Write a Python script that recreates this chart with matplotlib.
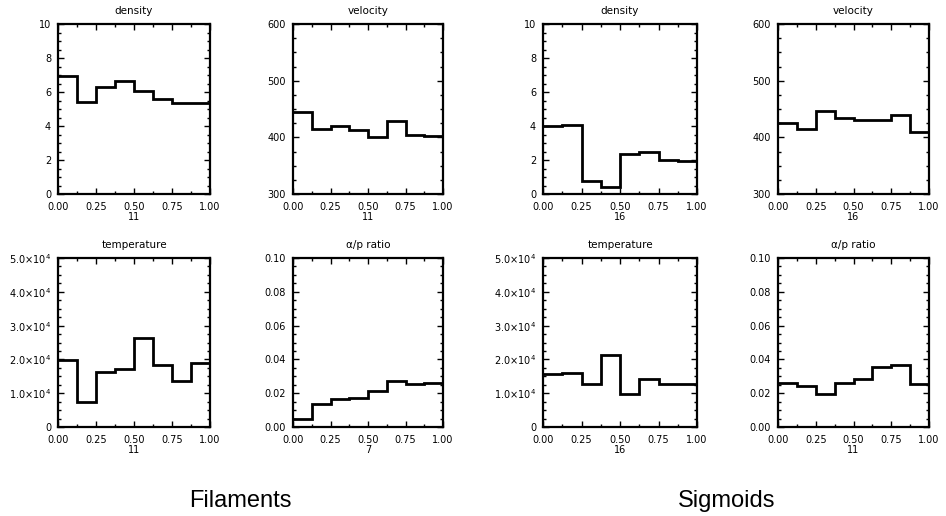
import numpy as np
import matplotlib
matplotlib.use("Agg")
import matplotlib.pyplot as plt
from matplotlib.ticker import MultipleLocator, AutoMinorLocator, FixedLocator

# bin edges shared by every histogram (8 bins over 0..1)
bin_edges = [0.0, 0.125, 0.25, 0.375, 0.5, 0.625, 0.75, 0.875, 1.0]
x_ticks = [0.0, 0.25, 0.5, 0.75, 1.0]
x_tick_labels = ["0.00", "0.25", "0.50", "0.75", "1.00"]

# Filaments
fil_density = [6.96, 5.43, 6.32, 6.66, 6.08, 5.6, 5.37, 5.33]
fil_velocity = [445, 415, 420, 413, 400, 429, 404, 403]
fil_temperature = [1.97e4, 0.74e4, 1.62e4, 1.73e4, 2.62e4, 1.84e4, 1.37e4, 1.89e4]
fil_ap_ratio = [0.0049, 0.0138, 0.0168, 0.0172, 0.0213, 0.0272, 0.0256, 0.026]
fil_counts = ["11", "11", "11", "7"]

# Sigmoids
sig_density = [4.0, 4.08, 0.74, 0.4, 2.36, 2.5, 2.0, 1.92]
sig_velocity = [425, 415, 446, 434, 431, 430, 440, 409]
sig_temperature = [1.57e4, 1.59e4, 1.26e4, 2.14e4, 0.98e4, 1.42e4, 1.26e4, 1.26e4]
sig_ap_ratio = [0.0259, 0.0245, 0.0195, 0.0263, 0.0283, 0.0353, 0.0365, 0.0253]
sig_counts = ["16", "16", "16", "11"]

titles = ["density", "velocity", "temperature", "\u03b1/p ratio"]
temp_ticks = [0, 1e4, 2e4, 3e4, 4e4, 5e4]
temp_tick_labels = ["0", r"1.0$\times$10$^4$", r"2.0$\times$10$^4$",
                    r"3.0$\times$10$^4$", r"4.0$\times$10$^4$", r"5.0$\times$10$^4$"]

W, H = 946, 516
fig = plt.figure(figsize=(W / 100, H / 100), dpi=100)
plt.rcParams["font.family"] = ["DejaVu Sans"]
plt.rcParams["mathtext.fontset"] = "dejavusans"


def add_panel(l, r, t, b):
    return fig.add_axes([l / W, 1 - b / H, (r - l) / W, (b - t) / H])


def style(ax, title, xlabel):
    ax.set_xlim(0, 1)
    ax.xaxis.set_major_locator(FixedLocator(x_ticks))
    ax.set_xticklabels(x_tick_labels)
    ax.xaxis.set_minor_locator(MultipleLocator(0.125))
    ax.yaxis.set_minor_locator(AutoMinorLocator(4))
    ax.tick_params(which="both", direction="in", top=True, right=True,
                   labelsize=7, width=1)
    ax.tick_params(axis="x", pad=6)
    ax.tick_params(axis="y", pad=5)
    ax.tick_params(which="major", length=4)
    ax.tick_params(which="minor", length=2)
    for sp in ax.spines.values():
        sp.set_linewidth(1.6)
    ax.set_title(title, fontsize=7.5, pad=7)
    ax.set_xlabel(xlabel, fontsize=7, labelpad=0)


def draw(ax, vals):
    ax.stairs(vals, bin_edges, baseline=None, color="black", linewidth=2)


# column pixel spans of each group
groups = [
    (fil_density, fil_velocity, fil_temperature, fil_ap_ratio, fil_counts,
     [(58, 210), (293, 443)]),
    (sig_density, sig_velocity, sig_temperature, sig_ap_ratio, sig_counts,
     [(543, 697), (778, 929)]),
]
rows = [(24, 194), (258, 427)]

for dens, vel, temp, ap, counts, cols in groups:
    ax = add_panel(cols[0][0], cols[0][1], *rows[0])
    draw(ax, dens)
    ax.set_ylim(0, 10)
    ax.yaxis.set_major_locator(MultipleLocator(2))
    style(ax, titles[0], counts[0])

    ax = add_panel(cols[1][0], cols[1][1], *rows[0])
    draw(ax, vel)
    ax.set_ylim(300, 600)
    ax.yaxis.set_major_locator(MultipleLocator(100))
    style(ax, titles[1], counts[1])

    ax = add_panel(cols[0][0], cols[0][1], *rows[1])
    draw(ax, temp)
    ax.set_ylim(0, 5e4)
    ax.yaxis.set_major_locator(FixedLocator(temp_ticks))
    ax.set_yticklabels(temp_tick_labels)
    style(ax, titles[2], counts[2])

    ax = add_panel(cols[1][0], cols[1][1], *rows[1])
    draw(ax, ap)
    ax.set_ylim(0, 0.1)
    ax.yaxis.set_major_locator(MultipleLocator(0.02))
    ax.yaxis.set_major_formatter(plt.FormatStrFormatter("%.2f"))
    style(ax, titles[3], counts[3])

fig.text(240 / W, 1 - 501 / H, "Filaments", ha="center", va="center",
         fontsize=17, family="Liberation Sans")
fig.text(727 / W, 1 - 501 / H, "Sigmoids", ha="center", va="center",
         fontsize=17, family="Liberation Sans")

fig.savefig("out.png", dpi=100)
